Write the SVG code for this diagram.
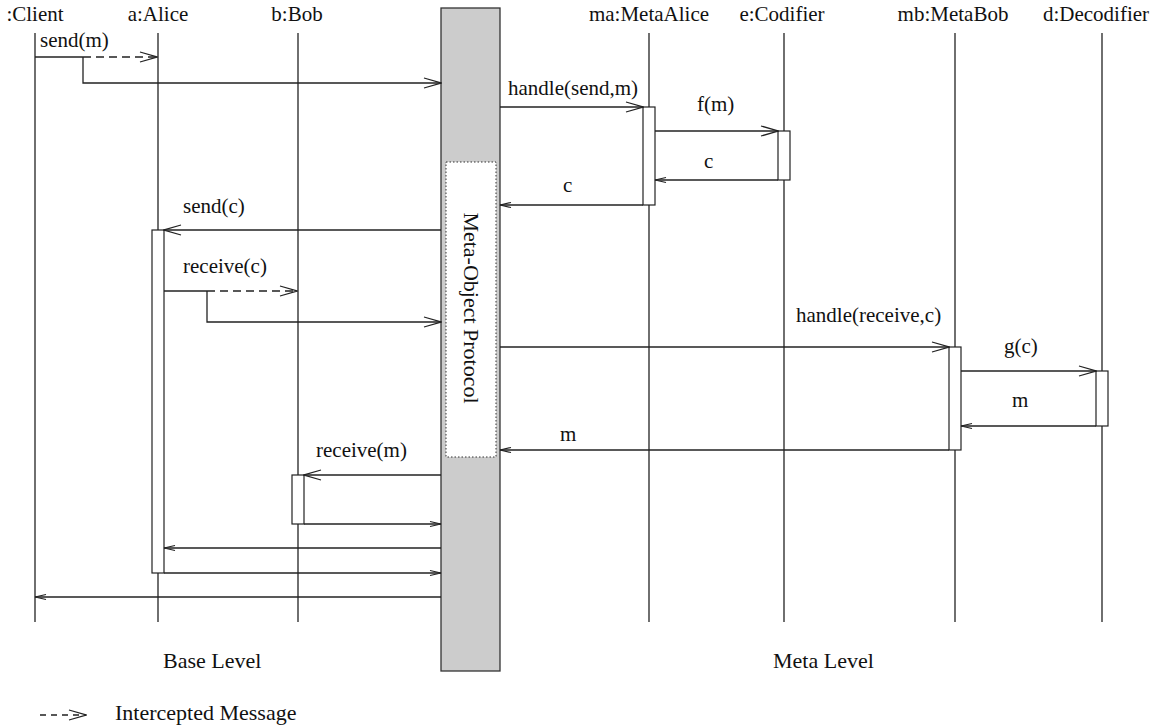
<svg xmlns="http://www.w3.org/2000/svg" width="1172" height="727" viewBox="0 0 1172 727">
<style>
text{font-family:"Liberation Serif","Times New Roman",serif;font-size:21px;fill:#111}
.hd{text-anchor:middle}
.ll{stroke:#222;stroke-width:1.3;fill:none}
.msg{stroke:#222;stroke-width:1.3;fill:none}
.dash{stroke:#222;stroke-width:1.3;fill:none;stroke-dasharray:8 5}
.act{fill:#fff;stroke:#222;stroke-width:1.2}
.big{marker-end:url(#big)}
.small{marker-end:url(#small)}
</style>
<defs>
<marker id="big" viewBox="-18 -6 19 12" refX="0" refY="0" markerWidth="19" markerHeight="12" markerUnits="userSpaceOnUse" orient="auto">
<path d="M-17,-5 L0,0 L-17,5" fill="none" stroke="#222" stroke-width="1.3"/>
</marker>
<marker id="small" viewBox="-12 -4 13 8" refX="0" refY="0" markerWidth="13" markerHeight="8" markerUnits="userSpaceOnUse" orient="auto">
<path d="M-11,-2.5 L0,0 L-11,2.5" fill="none" stroke="#222" stroke-width="1.2"/>
</marker>
</defs>

<g id="mop">
<rect x="441" y="8" width="59" height="663" fill="#cccccc" stroke="#333" stroke-width="1.3"/>
<rect x="446" y="162" width="50" height="295" fill="#fff" stroke="#333" stroke-width="1" stroke-dasharray="1.5 2"/>
<text transform="translate(464,308) rotate(90)" text-anchor="middle" style="font-size:22px">Meta-Object Protocol</text>
</g>

<g id="client"><text class="hd" x="35" y="21">:Client</text><line class="ll" x1="35" y1="33" x2="35" y2="622"/></g>
<g id="alice"><text class="hd" x="158" y="21">a:Alice</text><line class="ll" x1="158" y1="33" x2="158" y2="622"/><rect class="act" x="152" y="230" width="12" height="343"/></g>
<g id="bob"><text class="hd" x="297" y="21">b:Bob</text><line class="ll" x1="298" y1="33" x2="298" y2="622"/><rect class="act" x="292" y="475" width="12" height="49"/></g>
<g id="metaalice"><text class="hd" x="649" y="21">ma:MetaAlice</text><line class="ll" x1="649" y1="33" x2="649" y2="622"/><rect class="act" x="643" y="107" width="12" height="98"/></g>
<g id="codifier"><text class="hd" x="782" y="21">e:Codifier</text><line class="ll" x1="784" y1="33" x2="784" y2="622"/><rect class="act" x="778" y="131" width="12" height="49"/></g>
<g id="metabob"><text class="hd" x="953" y="21">mb:MetaBob</text><line class="ll" x1="955" y1="33" x2="955" y2="622"/><rect class="act" x="949" y="347" width="12" height="103"/></g>
<g id="decodifier"><text class="hd" x="1096" y="21">d:Decodifier</text><line class="ll" x1="1102" y1="33" x2="1102" y2="622"/><rect class="act" x="1096" y="371" width="12" height="55"/></g>

<g id="connectors">
<path class="msg" d="M35,57 H83"/>
<path class="dash big" d="M83,57 H157"/>
<path class="msg big" d="M83,57 V83 H441"/>
<path class="msg big" d="M500,107 H643"/>
<path class="msg big" d="M655,131 H778"/>
<path class="msg small" d="M778,180 H655"/>
<path class="msg small" d="M643,205 H500"/>
<path class="msg big" d="M441,230 H164"/>
<path class="msg" d="M164,291 H207"/>
<path class="dash big" d="M207,291 H297"/>
<path class="msg big" d="M207,291 V322 H441"/>
<path class="msg big" d="M500,347 H949"/>
<path class="msg big" d="M961,371 H1096"/>
<path class="msg small" d="M1096,426 H961"/>
<path class="msg small" d="M949,450 H500"/>
<path class="msg big" d="M441,475 H304"/>
<path class="msg small" d="M304,524 H441"/>
<path class="msg small" d="M441,548 H164"/>
<path class="msg small" d="M164,573 H441"/>
<path class="msg small" d="M441,597 H35"/>
</g>

<g id="labels">
<text x="40" y="47">send(m)</text>
<text x="508" y="95">handle(send,m)</text>
<text x="697" y="111">f(m)</text>
<text x="704" y="168">c</text>
<text x="563" y="192">c</text>
<text x="183" y="213">send(c)</text>
<text x="183" y="273">receive(c)</text>
<text x="796" y="322">handle(receive,c)</text>
<text x="1004" y="353">g(c)</text>
<text x="1012" y="407">m</text>
<text x="560" y="441">m</text>
<text x="316" y="457">receive(m)</text>
</g>

<g id="footer">
<text x="163" y="668" style="font-size:22px">Base Level</text>
<text x="773" y="668" style="font-size:22px">Meta Level</text>
<path class="dash big" d="M40,715 H86" style="stroke-dasharray:6 5"/>
<text x="115" y="720" style="font-size:22px">Intercepted Message</text>
</g>
</svg>
